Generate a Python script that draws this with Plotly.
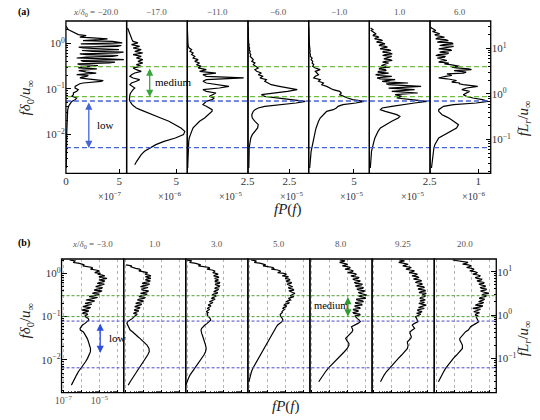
import plotly.graph_objects as go

W, H = 540, 420
FONT = "Liberation Serif"

# ---------------- (a) premultiplied spectra, linear amplitude ----------------
# frequency grid f*delta0/u_inf
freq_a = [
    2.36, 2.17, 1.99, 1.83, 1.68, 1.55, 1.42, 1.31, 1.20, 1.10,
    1.02, 0.933, 0.858, 0.788, 0.725, 0.666, 0.612, 0.563, 0.517, 0.475,
    0.437, 0.401, 0.369, 0.339, 0.312, 0.287, 0.263, 0.242, 0.222, 0.204,
    0.188, 0.173, 0.159, 0.146, 0.134, 0.123, 0.113, 0.104, 0.0957, 0.0879,
    0.0809, 0.0743, 0.0683, 0.0628, 0.0577, 0.0530, 0.0487, 0.0448, 0.0412, 0.0378,
    0.0348, 0.0320, 0.0294, 0.0270, 0.0248, 0.0228,
    0.0193, 0.0163, 0.0138, 0.0116, 0.00982, 0.00830, 0.00701, 0.00592, 0.00500,
    0.00423, 0.00357, 0.00301, 0.00255, 0.00215, 0.00182,
]
# extra high-frequency bins resolving the noisy part of the spectra
freq_a_hi = [
    2.26, 2.08, 1.91, 1.76, 1.61, 1.48, 1.36, 1.25, 1.15, 1.06,
    0.973, 0.895, 0.822, 0.756, 0.695, 0.639, 0.587, 0.539, 0.496, 0.456,
    0.419, 0.385, 0.354, 0.325, 0.299, 0.275, 0.252, 0.232, 0.213, 0.196,
    0.180, 0.166, 0.152, 0.140, 0.129,
]

# x/delta0 = -20.0  (units of 1e-7)
psd_a_m20 = [
    0.03, 0.09, 0.25, 0.55, 0.86, 1.16, 1.62, 2.53, 3.14, 4.36,
    5.28, 3.45, 4.82, 1.62, 4.97, 2.53, 4.82, 1.92, 4.36, 1.01,
    5.43, 1.62, 4.06, 1.31, 2.53, 1.16, 2.23, 1.62, 2.84, 1.01,
    1.92, 1.31, 3.14, 3.30, 1.62, 1.16, 0.86, 0.86, 1.16, 1.01,
    0.70, 0.70, 0.55, 1.01, 0.86, 0.55, 0.40, 0.34, 0.25, 0.19,
    0.17, 0.16, 0.15, 0.13, 0.13, 0.12,
    0.10, 0.09, 0.09, 0.08, 0.08, 0.07, 0.07, 0.06, 0.06, 0.05, 0.05, 0.04, 0.04, 0.03, 0.03,
]
psd_a_m20_hi = [
    0.05, 0.15, 0.40, 0.70, 1.00, 1.90, 1.30, 3.90, 1.60, 5.00,
    1.40, 5.20, 1.20, 4.40, 1.50, 5.40, 1.30, 4.90, 1.90, 3.80,
    1.40, 4.60, 1.10, 3.00, 1.40, 2.90, 1.20, 1.90, 1.30, 2.10,
    1.50, 2.00, 3.50, 2.00, 1.30,
]
# x/delta0 = -17.0  (units of 1e-6)
psd_a_m17 = [
    None, 0.10, 0.16, 0.20, 0.26, 0.33, 0.40, 0.49, 0.55, 0.65,
    1.14, 0.49, 1.31, 0.65, 1.47, 0.82, 1.63, 0.65, 1.47, 0.98,
    1.63, 1.14, 1.63, 0.98, 1.47, 0.65, 0.98, 1.47, 0.82, 0.49,
    0.33, 0.65, 1.31, 0.98, 0.49, 0.33, 0.55, 0.82, 0.65, 0.49,
    0.40, 0.33, 0.30, 0.26, 0.28, 0.33, 0.42, 0.56, 0.75, 0.98,
    1.35, 1.80, 2.20, 2.61, 3.00, 3.43,
    4.25, 4.90, 5.46, 5.85, 5.72, 4.90, 3.76, 2.94, 2.29, 1.80, 1.47, 1.21, 1.01, 0.82, None,
]
# x/delta0 = -11.0  (units of 1e-5)
psd_a_m11 = [
    0.0, 0.0, 0.01, 0.01, 0.01, 0.01, 0.02, 0.02, 0.02, 0.03,
    0.03, 0.03, 0.04, 0.08, 0.18, 0.11, 0.24, 0.18, 0.31, 0.24,
    0.45, 0.31, 0.51, 0.38, 0.58, 0.45, 0.79, 0.51, 1.19, 0.65,
    0.79, 2.34, 0.79, 0.65, 0.79, 1.19, 1.73, 1.33, 0.65, 0.79,
    1.19, 1.05, 0.92, 1.12, 1.03, 0.79, 0.70, 0.65, 0.79, 0.92,
    1.03, 1.03, 0.95, 0.85, 0.78, 0.72,
    0.51, 0.35, 0.24, 0.18, 0.12, 0.08, 0.06, 0.05, 0.04, 0.04, 0.03, 0.03, 0.03, 0.02, 0.02,
]
# x/delta0 = -6.0  (units of 1e-5)
psd_a_m6 = [
    0.0, 0.0, 0.0, 0.01, 0.01, 0.01, 0.02, 0.02, 0.03, 0.03,
    0.04, 0.07, 0.05, 0.10, 0.07, 0.13, 0.10, 0.17, 0.13, 0.23,
    0.32, 0.23, 0.42, 0.32, 0.52, 0.62, 0.42, 0.52, 0.81, 0.62,
    0.91, 0.72, 1.11, 1.01, 1.21, 1.40, 1.89, 2.38, 2.97, 2.38,
    1.40, 0.81, 1.01, 1.79, 2.58, 3.46, 2.90, 1.79, 1.01, 0.62,
    0.42, 0.32, 0.28, 0.23, 0.24, 0.26,
    0.42, 0.62, 0.58, 0.42, 0.26, 0.17, 0.13, 0.09, 0.07, 0.07, 0.06, 0.06, 0.05, 0.05, 0.05,
]
# x/delta0 = -1.0  (units of 1e-5)
psd_a_m1 = [
    0.0, 0.0, 0.01, 0.01, 0.02, 0.02, 0.03, 0.04, 0.05, 0.06,
    0.07, 0.08, 0.10, 0.13, 0.11, 0.16, 0.13, 0.20, 0.16, 0.38,
    0.27, 0.45, 0.38, 0.56, 0.45, 0.73, 1.27, 0.73, 0.91, 1.09,
    0.73, 0.56, 1.27, 1.09, 1.63, 1.45, 1.99, 2.35, 2.71, 3.42,
    3.60, 3.42, 3.78, 4.30, 4.86, 6.11, 5.21, 3.78, 3.24, 3.06,
    2.71, 1.99, 1.81, 1.63, 1.45, 1.27,
    1.09, 0.91, 0.82, 0.73, 0.64, 0.56, 0.47, 0.38, 0.33, 0.27, 0.24, 0.20, 0.17, 0.13, 0.11,
]
# x/delta0 = 1.0  (units of 1e-5)
psd_a_p1 = [
    None, 0.05, 0.15, 0.12, 0.23, 0.19, 0.32, 0.26, 0.46, 0.36,
    0.53, 0.46, 0.66, 0.53, 0.80, 0.59, 0.86, 0.66, 0.93, 0.73,
    0.86, 0.66, 0.80, 0.59, 0.73, 0.46, 0.66, 0.39, 0.80, 0.26,
    0.93, 0.32, 1.07, 0.53, 1.61, 0.80, 2.15, 0.80, 1.88, 0.93,
    2.01, 1.07, 1.34, 1.14, 1.74, 2.39, 1.88, 1.34, 0.93, 0.53,
    0.46, 0.66, 0.93, 1.14, 1.27, 1.20,
    0.93, 0.66, 0.46, 0.36, 0.28, 0.23, 0.19, 0.15, 0.12, 0.09, 0.08, 0.07, 0.06, 0.05, 0.04,
]
psd_a_p1_hi = [
    None, 0.10, 0.08, 0.18, 0.28, 0.15, 0.40, 0.22, 0.55, 0.30,
    0.65, 0.40, 0.75, 0.45, 0.90, 0.55, 0.95, 0.55, 0.80, 0.60,
    0.95, 0.55, 0.70, 0.50, 0.85, 0.40, 0.70, 0.35, 0.55, 0.40,
    0.60, 0.45, 0.70, 0.85, 0.70,
]
# x/delta0 = 6.0  (units of 1e-6)
psd_a_p6 = [
    None, 0.03, 0.08, 0.05, 0.15, 0.10, 0.22, 0.15, 0.32, 0.22,
    0.45, 0.28, 0.49, 0.25, 0.42, 0.28, 0.39, 0.18, 0.32, 0.15,
    0.28, 0.22, 0.39, 0.42, 0.62, 0.55, 0.86, 0.62, 0.69, 0.42,
    0.32, 0.18, 0.42, 0.49, 0.62, 0.69, 0.99, 0.76, 0.66, 0.82,
    0.76, 0.69, 0.76, 0.89, 1.09, 1.20, 0.96, 0.49, 0.28, 0.22,
    0.18, 0.18, 0.22, 0.25, 0.32, 0.39,
    0.49, 0.59, 0.55, 0.42, 0.28, 0.18, 0.14, 0.10, 0.08, 0.07, 0.06, 0.05, 0.04, 0.04, 0.03,
]
psd_a_p6_hi = [
    0.02, 0.06, 0.12, 0.09, 0.20, 0.12, 0.30, 0.12, 0.38, 0.15,
    0.48, 0.20, 0.40, 0.18, 0.45, 0.20, 0.35, 0.12, 0.30, 0.20,
    0.35, 0.18, 0.30, 0.55, 0.45, 0.80, 0.50, 0.75, 0.35, 0.45,
    0.22, 0.35, 0.55, 0.45, 0.60,
]

stations_a = ["−20.0", "−17.0", "−11.0", "−6.0", "−1.0", "1.0", "6.0"]
offset_exp_a = ["−7", "−6", "−5", "−5", "−5", "−5", "−6"]
xticks_a = [[0, 5], [5], [2.5], [2.5], [5], [2.5], [1]]
medium_band_a = [0.067, 0.306]
low_band_a = [0.0051, 0.054]

# ---------------- (b) premultiplied spectra, log amplitude ----------------
freq_b = [
    2.03, 1.86, 1.70, 1.56, 1.42, 1.30, 1.19, 1.09, 0.998, 0.913,
    0.836, 0.765, 0.700, 0.641, 0.586, 0.537, 0.491, 0.449, 0.411, 0.376,
    0.345, 0.315, 0.289, 0.264, 0.242, 0.221, 0.202, 0.185, 0.170, 0.155,
    0.142, 0.130, 0.119, 0.109, 0.0996, 0.0912, 0.0834, 0.0764, 0.0699, 0.0640,
    0.0585, 0.0536, 0.0490, 0.0449, 0.0411, 0.0376, 0.0344, 0.0315, 0.0288, 0.0264,
    0.0241, 0.0221,
    0.0185, 0.0155, 0.0130, 0.0109, 0.00910, 0.00762, 0.00639, 0.00535, 0.00448,
    0.00375, 0.00314, 0.00263,
]
freq_b_hi = [
    1.94, 1.78, 1.62, 1.49, 1.36, 1.25, 1.14, 1.04, 0.955, 0.874,
    0.800, 0.732, 0.670, 0.613, 0.561, 0.513, 0.470, 0.430, 0.394, 0.360,
    0.330, 0.302, 0.276, 0.253, 0.231, 0.212, 0.194, 0.177, 0.162, 0.148,
    0.136, 0.124, 0.114, 0.104,
]

psd_b_m3 = [
    2.24e-7, 4.18e-7, 7.8e-7, 1.46e-6, 2.71e-6, 4.10e-6, 6.22e-6, 7.65e-6, 1.16e-5, 1.43e-5,
    9.4e-6, 2.66e-5, 9.4e-6, 1.76e-5, 7.65e-6, 1.43e-5, 6.22e-6, 1.3e-5, 5.05e-6, 1.16e-5,
    4.10e-6, 7.65e-6, 2.71e-6, 5.5e-6, 1.79e-6, 4.10e-6, 1.6e-6, 2.8e-6, 1.2e-6, 2.6e-6,
    1.05e-6, 2.1e-6, 1.15e-6, 1.85e-6, 1.7e-6, 2.4e-6, 2.6e-6, 2.1e-6, 1.6e-6, 1.15e-6,
    9.6e-7, 8.5e-7, 8.8e-7, 1.25e-6, 1.46e-6, 1.7e-6, 1.85e-6, 2.1e-6, 2.3e-6, 2.5e-6,
    2.7e-6, 2.95e-6,
    3.2e-6, 3.2e-6, 2.7e-6, 2.2e-6, 1.7e-6, 1.23e-6, 8.9e-7, 6.8e-7, 5.4e-7, 4.2e-7, 3.4e-7, 2.8e-7,
]
psd_b_m3_hi = [
    4.5e-7, 3.5e-7, 1.4e-6, 1.2e-6, 4.0e-6, 3.2e-6, 1.0e-5, 5.5e-6, 8.0e-6, 2.0e-5,
    1.2e-5, 1.3e-5, 2.0e-5, 1.0e-5, 1.9e-5, 8.5e-6, 1.5e-5, 7.5e-6, 1.4e-5, 5.5e-6,
    1.0e-5, 4.0e-6, 8.0e-6, 3.2e-6, 5.5e-6, 2.2e-6, 3.8e-6, 1.7e-6, 3.3e-6, 1.4e-6,
    2.6e-6, 1.3e-6, 2.3e-6, 1.6e-6,
]
psd_b_p1 = [
    None, None, None, 1.06e-7, 1.98e-7, 3.69e-7, 6.87e-7, 1.04e-6, 1.57e-6, 1.94e-6,
    1.28e-6, 2.59e-6, 1.28e-6, 2.02e-6, 8.45e-7, 1.71e-6, 6.87e-7, 1.33e-6, 8.45e-7, 1.71e-6,
    6.87e-7, 1.28e-6, 5.58e-7, 1.04e-6, 4.53e-7, 8.45e-7, 3.69e-7, 6.87e-7, 3.26e-7, 5.58e-7,
    2.99e-7, 4.53e-7, 2.76e-7, 3.69e-7, 2.99e-7, 2.44e-7, 1.61e-7, 1.31e-7, 1.20e-7, 1.31e-7,
    1.42e-7, 1.61e-7, 1.82e-7, 2.44e-7, 2.99e-7, 3.69e-7, 4.93e-7, 6.34e-7, 8.1e-7, 1.04e-6,
    1.28e-6, 1.57e-6,
    2.02e-6, 2.10e-6, 1.71e-6, 1.28e-6, 9.6e-7, 7.46e-7, 5.58e-7, 4.18e-7, 3.26e-7, 2.44e-7, 1.82e-7, 1.42e-7,
]
psd_b_p1_hi = [
    None, None, None, 2.2e-7, 2.5e-7, 6.0e-7, 5.5e-7, 1.6e-6, 1.2e-6, 2.6e-6,
    1.8e-6, 1.5e-6, 2.4e-6, 1.1e-6, 2.2e-6, 9.0e-7, 1.8e-6, 8.0e-7, 1.9e-6, 9.0e-7,
    1.6e-6, 7.0e-7, 1.3e-6, 6.0e-7, 1.0e-6, 5.0e-7, 8.0e-7, 4.2e-7, 6.5e-7, 3.8e-7,
    5.5e-7, 3.3e-7, 4.5e-7, 3.6e-7,
]
psd_b_p3 = [
    9.0e-8, 1.54e-7, 2.87e-7, 5.35e-7, 1.00e-6, 1.64e-6, 2.28e-6, 3.19e-6, 3.76e-6, 3.46e-6,
    4.83e-6, 3.19e-6, 5.25e-6, 3.46e-6, 5.70e-6, 3.76e-6, 5.70e-6, 3.19e-6, 4.83e-6, 2.81e-6,
    4.26e-6, 2.28e-6, 3.19e-6, 2.10e-6, 2.81e-6, 1.64e-6, 2.10e-6, 1.39e-6, 1.64e-6, 1.23e-6,
    1.51e-6, 1.08e-6, 1.23e-6, 1.23e-6, 1.51e-6, 1.78e-6, 1.94e-6, 1.64e-6, 1.23e-6, 9.2e-7,
    7.2e-7, 6.1e-7, 5.6e-7, 5.6e-7, 6.1e-7, 6.6e-7, 7.2e-7, 7.5e-7, 8.1e-7, 8.8e-7,
    9.6e-7, 1.00e-6,
    1.08e-6, 1.00e-6, 8.1e-7, 6.1e-7, 4.35e-7, 3.12e-7, 2.33e-7, 1.75e-7, 1.36e-7, 1.11e-7, 9.4e-8, 8.1e-8,
]
psd_b_p3_hi = [
    1.6e-7, 1.3e-7, 4.5e-7, 4.0e-7, 1.6e-6, 1.2e-6, 3.2e-6, 2.5e-6, 5.0e-6, 2.8e-6,
    5.5e-6, 4.2e-6, 3.5e-6, 6.0e-6, 3.4e-6, 6.0e-6, 3.8e-6, 5.2e-6, 3.4e-6, 4.8e-6,
    2.8e-6, 4.0e-6, 2.4e-6, 3.4e-6, 2.0e-6, 2.6e-6, 1.6e-6, 2.0e-6, 1.4e-6, 1.7e-6,
    1.3e-6, 1.4e-6, 1.3e-6, 1.35e-6,
]
psd_b_p5 = [
    1.20e-7, 2.24e-7, 4.18e-7, 7.80e-7, 1.33e-6, 2.20e-6, 3.61e-6, 5.05e-6, 7.65e-6, 9.4e-6,
    1.43e-5, 9.4e-6, 1.76e-5, 1.16e-5, 1.90e-5, 1.43e-5, 2.43e-5, 1.61e-5, 2.88e-5, 1.76e-5,
    3.28e-5, 2.16e-5, 2.88e-5, 1.43e-5, 1.90e-5, 1.06e-5, 1.43e-5, 8.3e-6, 1.06e-5, 7.0e-6,
    7.65e-6, 6.22e-6, 5.46e-6, 5.05e-6, 5.46e-6, 6.45e-6, 7.0e-6, 6.22e-6, 4.63e-6, 3.61e-6,
    3.06e-6, 2.71e-6, 2.38e-6, 2.20e-6, 1.94e-6, 1.71e-6, 1.51e-6, 1.33e-6, 1.18e-6, 1.04e-6,
    9.2e-7, 8.1e-7,
    6.34e-7, 4.93e-7, 3.84e-7, 2.99e-7, 2.33e-7, 1.82e-7, 1.48e-7, 1.25e-7, 1.11e-7, 9.8e-8, 9.0e-8, None,
]
psd_b_p5_hi = [
    2.2e-7, 1.8e-7, 6.5e-7, 5.5e-7, 2.0e-6, 1.6e-6, 5.0e-6, 3.6e-6, 1.1e-5, 6.5e-6,
    1.2e-5, 1.5e-5, 1.1e-5, 2.2e-5, 1.2e-5, 2.0e-5, 1.4e-5, 2.6e-5, 1.5e-5, 2.4e-5,
    2.6e-5, 1.8e-5, 2.0e-5, 1.7e-5, 1.3e-5, 1.6e-5, 9.5e-6, 1.1e-5, 7.5e-6, 8.5e-6,
    6.5e-6, 6.5e-6, 5.0e-6, 5.2e-6,
]
psd_b_p8 = [
    3.61e-6, 5.05e-6, 6.22e-6, 7.65e-6, 9.4e-6, 1.16e-5, 1.43e-5, 1.76e-5, 2.16e-5, 2.66e-5,
    2.16e-5, 3.68e-5, 2.43e-5, 4.35e-5, 2.88e-5, 5.58e-5, 3.28e-5, 6.59e-5, 4.03e-5, 7.5e-5,
    4.96e-5, 1.14e-4, 4.96e-5, 9.97e-5, 3.28e-5, 7.5e-5, 2.88e-5, 6.1e-5, 2.66e-5, 4.96e-5,
    2.16e-5, 3.28e-5, 2.16e-5, 4.96e-5, 2.66e-5, 3.28e-5, 4.35e-5, 4.96e-5, 3.68e-5, 2.16e-5,
    1.61e-5, 1.76e-5, 1.90e-5, 1.76e-5, 1.43e-5, 1.06e-5, 8.3e-6, 7.65e-6, 8.6e-6, 1.06e-5,
    1.16e-5, 1.16e-5,
    9.4e-6, 6.45e-6, 4.26e-6, 2.71e-6, 1.79e-6, 1.18e-6, 8.1e-7, 5.8e-7, 4.18e-7, 3.12e-7, 2.44e-7, None,
]
psd_b_p8_hi = [
    7.0e-6, 3.5e-6, 1.0e-5, 5.0e-6, 1.4e-5, 7.0e-6, 2.0e-5, 1.0e-5, 3.0e-5, 1.5e-5,
    4.0e-5, 1.9e-5, 5.0e-5, 2.3e-5, 6.5e-5, 2.6e-5, 7.5e-5, 3.2e-5, 9.0e-5, 3.8e-5,
    8.0e-5, 4.0e-5, 8.5e-5, 3.0e-5, 6.5e-5, 2.6e-5, 6.0e-5, 2.4e-5, 4.5e-5, 2.0e-5,
    4.0e-5, 2.0e-5, 4.5e-5, 2.5e-5,
]
psd_b_p9_25 = [
    2.59e-6, 3.19e-6, 4.83e-6, 5.94e-6, 6.73e-6, 8.99e-6, 1.02e-5, 1.36e-5, 1.68e-5, 2.06e-5,
    2.54e-5, 2.06e-5, 3.54e-5, 2.54e-5, 4.18e-5, 3.12e-5, 5.35e-5, 3.54e-5, 6.32e-5, 3.85e-5,
    8.1e-5, 4.73e-5, 6.32e-5, 3.54e-5, 7.2e-5, 5.35e-5, 3.12e-5, 8.1e-5, 3.54e-5, 6.32e-5,
    2.54e-5, 4.73e-5, 2.34e-5, 3.12e-5, 2.06e-5, 2.34e-5, 2.54e-5, 2.76e-5, 1.82e-5, 1.36e-5,
    1.54e-5, 1.82e-5, 1.36e-5, 1.02e-5, 1.02e-5, 1.11e-5, 1.20e-5, 1.11e-5, 8.99e-6, 7.3e-6,
    7.3e-6, 7.94e-6,
    7.3e-6, 5.25e-6, 3.46e-6, 2.28e-6, 1.51e-6, 1.00e-6, 6.87e-7, 4.93e-7, 3.69e-7, 2.87e-7, 2.33e-7, None,
]
psd_b_p9_25_hi = [
    5.0e-6, 2.4e-6, 8.0e-6, 4.0e-6, 1.2e-5, 6.0e-6, 1.8e-5, 9.0e-6, 2.6e-5, 1.3e-5,
    3.2e-5, 1.6e-5, 4.5e-5, 2.0e-5, 5.0e-5, 2.4e-5, 6.5e-5, 2.8e-5, 7.5e-5, 3.2e-5,
    5.5e-5, 7.5e-5, 4.0e-5, 5.5e-5, 3.6e-5, 6.5e-5, 4.5e-5, 5.5e-5, 3.0e-5, 4.5e-5,
    3.0e-5, 3.5e-5, 4.0e-5, 2.6e-5,
]
psd_b_p20 = [
    8.45e-7, 3.61e-6, 4.44e-6, 6.22e-6, 7.3e-6, 9.4e-6, 1.11e-5, 1.43e-5, 1.68e-5, 2.16e-5,
    2.54e-5, 1.90e-5, 3.28e-5, 2.54e-5, 4.35e-5, 3.28e-5, 5.35e-5, 3.54e-5, 5.82e-5, 3.85e-5,
    8.8e-5, 3.54e-5, 5.35e-5, 2.54e-5, 4.35e-5, 2.34e-5, 3.54e-5, 1.54e-5, 3.28e-5, 1.11e-5,
    2.34e-5, 1.25e-5, 1.90e-5, 1.54e-5, 1.68e-5, 1.90e-5, 2.16e-5, 2.34e-5, 1.68e-5, 1.11e-5,
    8.3e-6, 7.3e-6, 6.22e-6, 4.44e-6, 3.61e-6, 2.93e-6, 2.38e-6, 2.10e-6, 2.10e-6, 2.38e-6,
    2.71e-6, 2.93e-6,
    2.93e-6, 2.10e-6, 1.39e-6, 9.2e-7, 6.34e-7, 4.53e-7, 3.40e-7, 2.65e-7, 2.06e-7, 1.67e-7, 1.36e-7, None,
]
psd_b_p20_hi = [
    1.8e-6, 6.0e-6, 3.0e-6, 9.0e-6, 5.0e-6, 1.3e-5, 7.5e-6, 1.9e-5, 1.1e-5, 2.8e-5,
    1.5e-5, 3.5e-5, 1.9e-5, 4.8e-5, 2.4e-5, 5.5e-5, 2.8e-5, 6.5e-5, 3.0e-5, 6.0e-5,
    4.5e-5, 6.5e-5, 3.0e-5, 5.0e-5, 3.0e-5, 4.5e-5, 2.2e-5, 4.0e-5, 1.8e-5, 3.0e-5,
    1.6e-5, 2.6e-5, 1.6e-5, 2.2e-5,
]

stations_b = ["−3.0", "1.0", "3.0", "5.0", "8.0", "9.25", "20.0"]
medium_band_b = [0.1, 0.304]
low_band_b = [0.0066, 0.079]

series_a = [psd_a_m20, psd_a_m17, psd_a_m11, psd_a_m6, psd_a_m1, psd_a_p1, psd_a_p6]
series_a_hi = [psd_a_m20_hi, None, None, None, None, psd_a_p1_hi, psd_a_p6_hi]
series_b = [psd_b_m3, psd_b_p1, psd_b_p3, psd_b_p5, psd_b_p8, psd_b_p9_25, psd_b_p20]
series_b_hi = [psd_b_m3_hi, psd_b_p1_hi, psd_b_p3_hi, psd_b_p5_hi, psd_b_p8_hi,
               psd_b_p9_25_hi, psd_b_p20_hi]


def merged(freq, vals, freq_hi, vals_hi):
    """Combine the base bins with the extra high-frequency bins, ordered by frequency."""
    pts = list(zip(freq, vals))
    if vals_hi is not None:
        pts += list(zip(freq_hi, vals_hi))
    pts.sort(key=lambda p: -p[0])
    return [p[1] for p in pts], [p[0] for p in pts]


# ---------------- geometry (pixels) ----------------
edges_a = [60.5, 122.8, 185.1, 247.4, 309.7, 372.0, 434.3, 496.6]
top_a, bot_a = 21.0, 173.3
xmax_a = [5.69, 6.1, 2.52, 3.66, 6.7, 2.52, 1.26]
edges_b = [56.0, 119.8, 183.5, 247.3, 311.0, 374.8, 438.6, 502.3]
top_b, bot_b = 259.0, 392.7


def fx(px):
    return px / W


def fy(py):
    return 1 - py / H


GREEN_A, BLUE_A = "#6cbd3c", "#4563d6"
GREEN_B, BLUE_B = "#4f9c32", "#4b4bc8"
TICK_COLOR = "#333333"

minor_log = [k * 10.0 ** e for e in range(-4, 3) for k in range(2, 10)]
minor_log_x = [k * 10.0 ** e for e in range(-8, -2) for k in range(2, 10)]

fig = go.Figure()
layout = dict(
    width=W, height=H, margin=dict(l=0, r=0, t=0, b=0),
    paper_bgcolor="white", plot_bgcolor="rgba(0,0,0,0)", showlegend=False,
    font=dict(family=FONT, size=10, color=TICK_COLOR),
)


def log_y(domain, rng, anchor, vals, texts, **kw):
    d = dict(
        type="log", domain=domain, range=rng, anchor=anchor,
        tickmode="array", tickvals=vals, ticktext=texts,
        ticks="inside", ticklen=5, tickwidth=1, tickcolor="black",
        minor=dict(ticks="inside", ticklen=2.5, tickcolor="black",
                   tickmode="array", tickvals=minor_log),
        showgrid=False, zeroline=False, showline=False,
        tickfont=dict(size=11, family=FONT, color=TICK_COLOR),
    )
    d.update(kw)
    return d


layout["yaxis"] = log_y([fy(bot_a), fy(top_a)], [-2.857, 0.490], "x",
                        [0.01, 0.1, 1], ["10<sup>−2</sup>", "10<sup>−1</sup>", "10<sup>0</sup>"])
layout["yaxis3"] = log_y([fy(bot_a), fy(top_a)], [-1.743, 1.604], "x7",
                         [0.1, 1, 10], ["10<sup>−1</sup>", "10<sup>0</sup>", "10<sup>1</sup>"],
                         overlaying="y", side="right")
layout["yaxis2"] = log_y([fy(bot_b), fy(top_b)], [-2.755, 0.330], "x8",
                         [0.01, 0.1, 1], ["10<sup>−2</sup>", "10<sup>−1</sup>", "10<sup>0</sup>"])
layout["yaxis4"] = log_y([fy(bot_b), fy(top_b)], [-1.792, 1.293], "x14",
                         [0.1, 1, 10], ["10<sup>−1</sup>", "10<sup>0</sup>", "10<sup>1</sup>"],
                         overlaying="y2", side="right")

for k in range(7):
    name = "xaxis" if k == 0 else f"xaxis{k + 1}"
    layout[name] = dict(
        domain=[fx(edges_a[k]), fx(edges_a[k + 1])], anchor="y",
        range=[0, xmax_a[k]], tickmode="array", tickvals=xticks_a[k],
        ticktext=[("%g" % v) for v in xticks_a[k]],
        ticks="inside", ticklen=4, tickcolor="black",
        showgrid=False, zeroline=False, showline=False,
        tickfont=dict(size=11, family=FONT, color=TICK_COLOR),
    )

for k in range(7):
    name = f"xaxis{k + 8}"
    layout[name] = dict(
        type="log", domain=[fx(edges_b[k]), fx(edges_b[k + 1])], anchor="y2",
        range=[-7.1, -3.65], tickmode="array",
        tickvals=[1e-7, 1e-6, 1e-5, 1e-4],
        ticktext=["10<sup>−7</sup>", "", "10<sup>−5</sup>", ""],
        showticklabels=(k == 0),
        ticks="inside", ticklen=3, tickcolor="black",
        minor=dict(ticks="inside", ticklen=1.5, tickcolor="#555",
                   tickmode="array", tickvals=minor_log_x),
        showgrid=True, gridcolor="#b5b5b5", griddash="dot", gridwidth=0.8,
        zeroline=False, showline=False,
        tickfont=dict(size=10, family=FONT, color="#555"),
    )

layout["xaxis15"] = dict(domain=[fx(edges_a[0]), fx(edges_a[-1])], anchor="y",
                         range=[0, 1], visible=False)
layout["xaxis16"] = dict(domain=[fx(edges_b[0]), fx(edges_b[-1])], anchor="y2",
                         range=[0, 1], visible=False)

for vals, col, xa, ya, wd, dash in (
        (medium_band_a, GREEN_A, "x15", "y", 1.3, "5px,3px"),
        (low_band_a, BLUE_A, "x15", "y", 1.3, "5px,3px"),
        (medium_band_b, GREEN_B, "x16", "y2", 1.0, "3px,2px"),
        (low_band_b, BLUE_B, "x16", "y2", 1.0, "3px,2px")):
    for v in vals:
        fig.add_trace(go.Scatter(x=[0, 1], y=[v, v], mode="lines", xaxis=xa, yaxis=ya,
                                 line=dict(color=col, width=wd, dash=dash), hoverinfo="skip"))

for k in range(7):
    xs, ys = merged(freq_a, series_a[k], freq_a_hi, series_a_hi[k])
    fig.add_trace(go.Scatter(x=xs, y=ys, mode="lines",
                             xaxis="x" if k == 0 else f"x{k + 1}", yaxis="y",
                             line=dict(color="black", width=1.2), hoverinfo="skip"))
for k in range(7):
    xs, ys = merged(freq_b, series_b[k], freq_b_hi, series_b_hi[k])
    fig.add_trace(go.Scatter(x=xs, y=ys, mode="lines", xaxis=f"x{k + 8}", yaxis="y2",
                             line=dict(color="black", width=1.2), hoverinfo="skip"))

fig.add_trace(go.Scatter(x=[None], y=[None], xaxis="x7", yaxis="y3", hoverinfo="skip"))
fig.add_trace(go.Scatter(x=[None], y=[None], xaxis="x14", yaxis="y4", hoverinfo="skip"))

shapes = []
for edges, top, bot in ((edges_a, top_a, bot_a), (edges_b, top_b, bot_b)):
    for k in range(7):
        shapes.append(dict(type="rect", xref="paper", yref="paper",
                           x0=fx(edges[k]), x1=fx(edges[k + 1]), y0=fy(bot), y1=fy(top),
                           line=dict(color="black", width=1.3), fillcolor="rgba(0,0,0,0)",
                           layer="above"))
layout["shapes"] = shapes

ann = []


def text_at(px, py, text, size=10, color=TICK_COLOR, xanchor="center", angle=0, **kw):
    d = dict(x=fx(px), y=fy(py), xref="paper", yref="paper", text=text, showarrow=False,
             xanchor=xanchor, yanchor="middle", textangle=angle,
             font=dict(size=size, family=FONT, color=color))
    d.update(kw)
    return d


for k, st in enumerate(stations_a):
    txt = ("<i>x</i>/<i>δ</i><sub>0</sub> = " + st) if k == 0 else st
    ann.append(text_at((edges_a[k] + edges_a[k + 1]) / 2, 12, txt, size=9, color="#555"))
for k, st in enumerate(stations_b):
    txt = ("<i>x</i>/<i>δ</i><sub>0</sub> = " + st) if k == 0 else st
    ann.append(text_at((edges_b[k] + edges_b[k + 1]) / 2, 244, txt, size=9, color="#555"))
for k, e in enumerate(offset_exp_a):
    ann.append(text_at(edges_a[k + 1] - 3, 196, "×10<sup>" + e + "</sup>", size=10,
                       xanchor="right"))
ann.append(text_at(9, 12, "<b>(a)</b>", size=10, color="black", xanchor="left"))
ann.append(text_at(9, 243, "<b>(b)</b>", size=10, color="black", xanchor="left"))

ylab = "<i>fδ</i><sub>0</sub>/<i>u</i><sub>∞</sub>"
rlab = "<i>fL</i><sub><i>r</i></sub>/<i>u</i><sub>∞</sub>"
xlab = "<i>f</i><i>P</i>(<i>f</i>)"
ann.append(text_at(20, 97, ylab, size=15, color="#222", angle=-90))
ann.append(text_at(20, 320, ylab, size=15, color="#222", angle=-90))
ann.append(text_at(531, 118, rlab, size=15, color="#222", angle=-90))
ann.append(text_at(531, 338, rlab, size=15, color="#222", angle=-90))
ann.append(text_at(288, 209, xlab, size=15, color="#222"))
ann.append(text_at(286, 406, xlab, size=15, color="#222"))


def band_arrow(xp, y_top, y_bot, color):
    return dict(x=fx(xp), y=fy(y_bot), xref="paper", yref="paper", text="",
                ax=0, ay=-(y_bot - y_top), axref="pixel", ayref="pixel",
                showarrow=True, arrowside="end+start", arrowhead=2, startarrowhead=2,
                arrowsize=1.1, startarrowsize=1.1, arrowwidth=1.3, arrowcolor=color)


ann.append(text_at(90, 125, "low", size=11, color="black", xanchor="left"))
ann.append(text_at(150, 82, "medium", size=11, color="black", xanchor="left"))
ann.append(text_at(103, 338, "low", size=11, color="black", xanchor="left"))
ann.append(text_at(313, 305, "medium", size=10.5, color="black", xanchor="left"))
ann.append(band_arrow(84, 101, 148, BLUE_A))
ann.append(band_arrow(146.5, 67, 97, "#3aa63a"))
ann.append(band_arrow(95.7, 322, 353, "#2d4de0"))
ann.append(band_arrow(350, 295.5, 316.5, "#2f9a2f"))
layout["annotations"] = ann

fig.update_layout(**layout)
fig.write_html("out.html")
